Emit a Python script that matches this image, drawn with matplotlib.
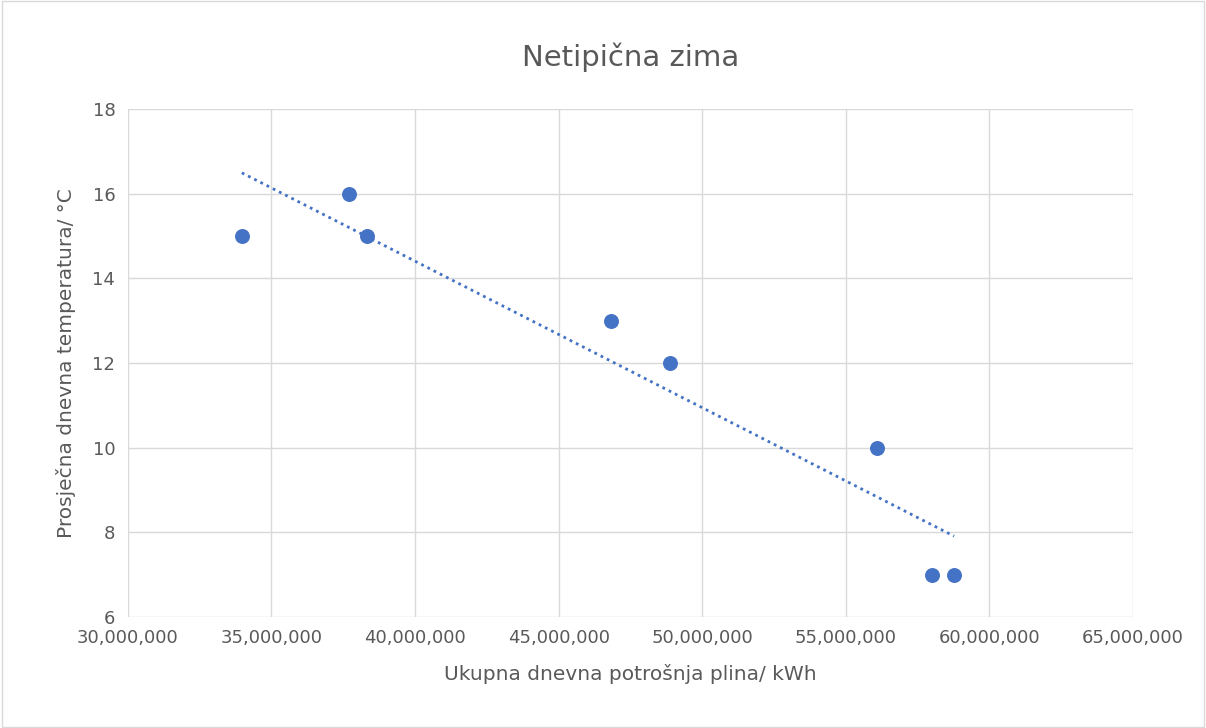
import matplotlib.pyplot as plt
import numpy as np
from matplotlib.ticker import FuncFormatter

# Daily gas consumption (kWh) vs mean daily temperature (°C)
potrosnja = [33_970_000, 37_700_000, 38_320_000, 46_820_000,
             48_880_000, 56_090_000, 57_990_000, 58_770_000]
temperatura = [15, 16, 15, 13, 12, 10, 7, 7]

x_ticks = [30e6, 35e6, 40e6, 45e6, 50e6, 55e6, 60e6, 65e6]
y_ticks = [6, 8, 10, 12, 14, 16, 18]

blue = '#4472C4'
grid_col = '#D9D9D9'
text_col = '#595959'

fig = plt.figure(figsize=(12.06, 7.28), dpi=100)
ax = fig.add_axes([0.106, 0.1525, 0.8335, 0.6975])

ax.scatter(potrosnja, temperatura, s=95, color=blue, zorder=3)

# Linear trendline over the data range
x = np.array(potrosnja, dtype=float)
k, b = np.polyfit(x, temperatura, 1)
xs = np.array([x.min(), x.max()])
ax.plot(xs, k * xs + b, linestyle=(0, (1, 1.5)), color=blue, linewidth=2, zorder=2)

ax.set_xlim(x_ticks[0], x_ticks[-1])
ax.set_ylim(y_ticks[0], y_ticks[-1])
ax.set_xticks(x_ticks)
ax.set_yticks(y_ticks)
ax.xaxis.set_major_formatter(FuncFormatter(lambda v, p: f'{v:,.0f}'))
ax.grid(True, color=grid_col, linewidth=1.0)
ax.set_axisbelow(True)
for s in ax.spines.values():
    s.set_visible(False)
ax.tick_params(length=0, labelsize=13, colors=text_col, pad=9)

ax.set_title('Netipična zima', fontsize=21, color=text_col, pad=31)
ax.set_xlabel('Ukupna dnevna potrošnja plina/ kWh', fontsize=14.5, color=text_col, labelpad=12)
ax.set_ylabel('Prosječna dnevna temperatura/ °C', fontsize=14.5, color=text_col, labelpad=12)

# Chart border
fig.patches.append(plt.Rectangle((0.002, 0.002), 0.996, 0.996, transform=fig.transFigure,
                                 fill=False, edgecolor='#D9D9D9', linewidth=1))

fig.savefig('out.png', dpi=100, facecolor='white')
